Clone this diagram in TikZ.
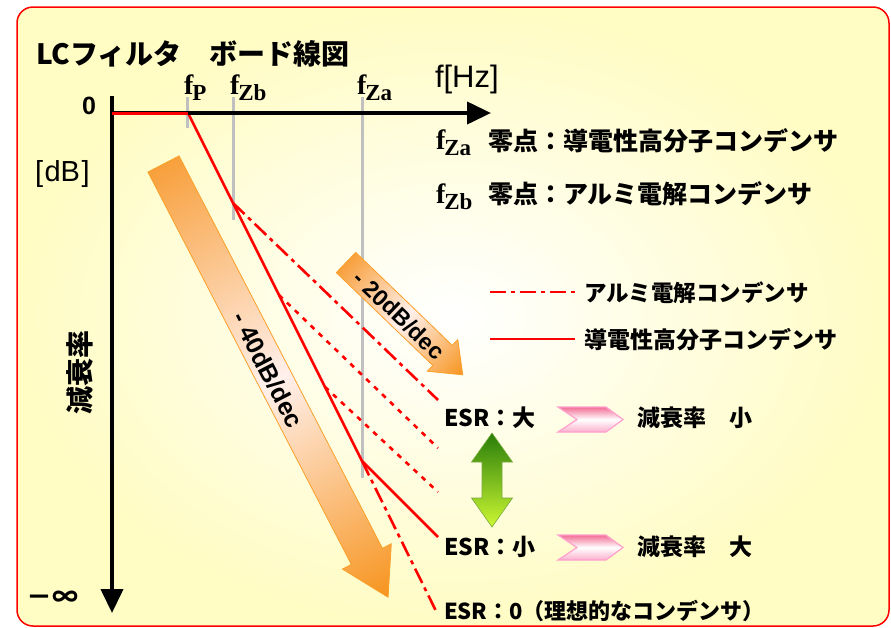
\documentclass[tikz,border=0pt]{standalone}
\usepackage{fontspec}
\setmainfont{Liberation Sans}
\newfontfamily\cjk{Noto Sans CJK JP}
\newfontfamily\tms{Liberation Serif}
\usetikzlibrary{arrows.meta,calc}
\definecolor{bgyel}{RGB}{255,252,196}
\definecolor{tickgray}{RGB}{192,192,192}
\definecolor{orA}{RGB}{248,160,60}
\definecolor{orC}{RGB}{247,148,30}
\definecolor{orB}{RGB}{255,240,236}
\definecolor{orEdge}{RGB}{250,160,40}
\definecolor{grA}{RGB}{40,125,10}
\definecolor{grB}{RGB}{205,248,50}
\definecolor{grEdge}{RGB}{120,170,60}
\definecolor{pkA}{RGB}{242,110,150}
\definecolor{pkC}{RGB}{250,175,205}
\definecolor{pkEdge}{RGB}{255,160,205}
\newcommand\fsz[1]{\fontsize{#1}{#1}\selectfont}
\newcommand\flab[1]{{\tms\bfseries\fsz{28}f\kern-1pt\raisebox{-6pt}{\fsz{23}#1}}}
\begin{document}
\begin{tikzpicture}[x=1pt,y=-1pt,
  axisln/.style={line width=4pt, black},
  tickln/.style={line width=3pt, tickgray},
  redln/.style={line width=2.6pt, red},
  aluln/.style={redln, dash pattern=on 16pt off 5pt on 4pt off 5pt},
  dotln/.style={redln, dash pattern=on 5pt off 6pt},
  txt/.style={inner sep=0pt, outer sep=0pt},
  cjkb/.style={txt, font=\cjk\bfseries\fsz{#1}},
  orarrow/.style={draw=orEdge, line width=0.8pt, left color=orA, right color=orC, middle color=orB},
  chev/.style={draw=pkEdge, line width=1.2pt, top color=pkA, bottom color=pkC, middle color=white},
  tipax/.style={-{Triangle[length=24pt,width=22pt]}}
]
\useasboundingbox (0,0) rectangle (891,627);
% background frame
\shadedraw[draw=red, line width=1.5pt, rounded corners=16pt, inner color=white, outer color=bgyel] (17,7) rectangle (889,626);

% frequency ticks
\coordinate (fPt) at (187,97);  \coordinate (fPb) at (187,128);
\coordinate (fZbt) at (233,97); \coordinate (fZbb) at (233,220);
\coordinate (fZat) at (362,97); \coordinate (fZab) at (362,478);
\draw[tickln] (fPt) -- (fPb);
\draw[tickln] (fZbt) -- (fZbb);
\draw[tickln] (fZat) -- (fZab);

% -40 dB/dec arrow (tail centre (163.5,164), length 488, angle -62.6)
\begin{scope}[transform canvas={shift={(163.5,164)}, rotate=-62.6}]
\shadedraw[orarrow]
  (0,-17.5) -- (442,-17.5) -- (442,-27.5) -- (488,0) -- (442,27.5) -- (442,17.5) -- (0,17.5) -- cycle;
\end{scope}
\node[txt, rotate=-62.6, font=\bfseries\fsz{25}] (t40) at (268,370) {- 40dB/dec};

% -20 dB/dec arrow (tail centre (346,262.5), length 162, angle -43.9)
\begin{scope}[transform canvas={shift={(346,262.5)}, rotate=-43.9}]
\shadedraw[orarrow]
  (0,-14) -- (134,-14) -- (134,-22) -- (162,0) -- (134,22) -- (134,14) -- (0,14) -- cycle;
\end{scope}
\node[txt, rotate=-43.9, font=\bfseries\fsz{23}] (t20) at (399,315) {- 20dB/dec};

% response curves
\coordinate (p0) at (112,113); \coordinate (pP) at (188,113); \coordinate (vx) at (362,461);
\coordinate (a1) at ($(pP)!0.2586!(vx)$);
\coordinate (a2) at ($(pP)!0.523!(vx)$);
\coordinate (a3) at ($(pP)!0.787!(vx)$);
\coordinate (e1) at (438,400); \coordinate (e2) at (438,448); \coordinate (e3) at (438,492);
\coordinate (eS) at (438,537); \coordinate (e0) at (437,613);
\draw[aluln] (a1) -- (e1);
\draw[dotln] (a2) -- (e2);
\draw[dotln] (a3) -- (e3);
\draw[aluln] (vx) -- (e0);
\draw[redln, line join=miter] (pP) -- (vx) -- (eS);

% axes
\coordinate (vtop) at (112,96); \coordinate (vbot) at (112,613);
\coordinate (hl) at (110,113);  \coordinate (hr) at (491,113);
\draw[axisln, tipax] (vtop) -- (vbot);
\draw[axisln, tipax] (hl) -- (hr);
\draw[line width=3pt, red] (p0) -- (pP);

% axis labels
\node[cjkb=28, anchor=west] (title) at (36,54) {LCフィルタ　ボード線図};
\node[txt, anchor=base west] (lfP) at (184,94) {\flab{P}};
\node[txt, anchor=base west] (lfZb) at (230,94) {\flab{Zb}};
\node[txt, anchor=base west] (lfZa) at (357,94) {\flab{Za}};
\node[txt, anchor=west, font=\fsz{31}] (fHz) at (435,79) {f[Hz]};
\node[txt, font=\bfseries\fsz{25}] (zero) at (89,106) {0};
\node[txt, anchor=west, font=\fsz{29}] (dB) at (35,174) {[\kern1.5pt dB\kern1.5pt]};
\node[cjkb=28, rotate=90] (gen) at (80,372) {減衰率};
\node[cjkb=26] (minf) at (53,599) {－∞};

% zero explanation
\node[txt, anchor=base west] (kfZa) at (436,149) {\flab{Za}};
\node[cjkb=25, anchor=west] (kZa) at (488,141) {零点：導電性高分子コンデンサ};
\node[txt, anchor=base west] (kfZb) at (436,203) {\flab{Zb}};
\node[cjkb=25, anchor=west] (kZb) at (488,194) {零点：アルミ電解コンデンサ};

% legend
\coordinate (lg1a) at (490,292); \coordinate (lg1b) at (575,292);
\coordinate (lg2a) at (490,339); \coordinate (lg2b) at (575,339);
\draw[aluln] (lg1a) -- (lg1b);
\draw[redln] (lg2a) -- (lg2b);
\node[cjkb=22.5, anchor=west] (lgt1) at (584,293) {アルミ電解コンデンサ};
\node[cjkb=23, anchor=west] (lgt2) at (584,340) {導電性高分子コンデンサ};

% ESR statements
\node[cjkb=23, anchor=west] (esrL) at (444,418) {ESR：大};
\node[cjkb=23, anchor=west] (attS) at (637,418) {減衰率　小};
\node[cjkb=23, anchor=west] (esrS) at (444,547) {ESR：小};
\node[cjkb=23, anchor=west] (attL) at (637,547) {減衰率　大};
\node[cjkb=22, anchor=west] (esr0) at (444,611) {ESR：0（理想的なコンデンサ）};

% green double arrow
\shadedraw[draw=grEdge, line width=0.6pt, top color=grA, bottom color=grB]
  (492,433) -- (512.5,462) -- (502,462) -- (502,498) -- (512.5,498) -- (492,527)
  -- (471.5,498) -- (482,498) -- (482,462) -- (471.5,462) -- cycle;

% pink chevrons
\shadedraw[chev] (558,407) -- (606,407) -- (623,419.5) -- (606,432) -- (558,432) -- (577,419.5) -- cycle;
\shadedraw[chev] (558,535) -- (606,535) -- (623,547.5) -- (606,560) -- (558,560) -- (577,547.5) -- cycle;
\end{tikzpicture}
\end{document}
